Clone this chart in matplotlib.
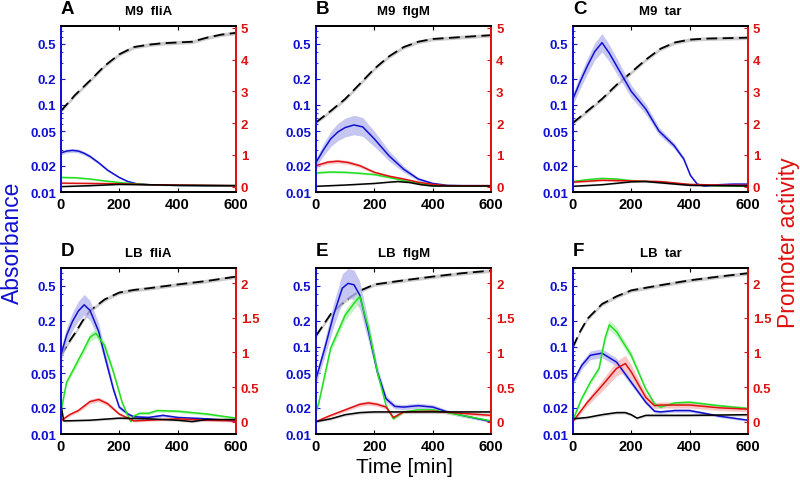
import numpy as np
import matplotlib
matplotlib.use("Agg")
import matplotlib.pyplot as plt
from matplotlib.ticker import FixedLocator, NullFormatter, LogLocator

plt.rcParams['font.family'] = ['Liberation Sans', 'DejaVu Sans']

# ---- data: (time [min], value) ----
# absorbance (left, log axis); promoter activity (right axis) for blue/green/red/black
A_od = [(0, 0.085), (50, 0.131), (100, 0.19), (150, 0.28), (200, 0.38), (250, 0.46), (300, 0.49),
        (350, 0.51), (400, 0.52), (450, 0.53), (500, 0.59), (550, 0.64), (600, 0.67)]
A_blue = [(0, 1.06), (20, 1.12), (40, 1.14), (60, 1.12), (80, 1.05), (100, 0.95), (130, 0.75), (160, 0.52),
          (200, 0.29), (230, 0.16), (260, 0.09), (300, 0.06), (400, 0.04), (500, 0.03), (600, 0.03)]
A_green = [(0, 0.29), (50, 0.28), (100, 0.24), (150, 0.18), (200, 0.13), (250, 0.09), (300, 0.06),
           (400, 0.04), (600, 0.03)]
A_red = [(0, 0.11), (100, 0.10), (200, 0.09), (300, 0.06), (400, 0.05), (600, 0.03)]
A_black = [(0, 0.0), (100, 0.03), (200, 0.07), (300, 0.06), (400, 0.04), (600, 0.03)]

B_od = [(0, 0.063), (50, 0.085), (100, 0.117), (150, 0.174), (200, 0.26), (250, 0.36), (300, 0.46),
        (350, 0.53), (400, 0.57), (500, 0.60), (600, 0.63)]
B_blue = [(0, 0.76), (25, 1.15), (50, 1.5), (75, 1.72), (100, 1.86), (130, 1.94), (160, 1.88), (200, 1.5),
          (250, 0.97), (300, 0.55), (350, 0.24), (400, 0.1), (450, 0.04), (500, 0.03), (600, 0.03)]
B_green = [(0, 0.43), (50, 0.46), (100, 0.45), (150, 0.42), (200, 0.38), (250, 0.29), (300, 0.19),
           (350, 0.1), (400, 0.03), (450, 0.03), (600, 0.02)]
B_red = [(0, 0.66), (40, 0.77), (75, 0.8), (110, 0.76), (150, 0.66), (200, 0.45), (250, 0.33), (300, 0.24),
         (350, 0.14), (400, 0.07), (450, 0.03), (600, 0.03)]
B_black = [(0, 0.01), (100, 0.05), (200, 0.1), (250, 0.14), (280, 0.16), (320, 0.13), (360, 0.06),
           (400, 0.02), (600, 0.02)]

C_od = [(0, 0.062), (50, 0.085), (100, 0.117), (150, 0.17), (200, 0.236), (250, 0.33), (300, 0.44),
        (350, 0.52), (400, 0.56), (450, 0.575), (500, 0.58), (600, 0.59)]
C_blue = [(0, 2.75), (25, 3.3), (50, 3.8), (75, 4.25), (100, 4.53), (125, 4.2), (150, 3.8), (200, 3.0),
          (250, 2.44), (295, 1.75), (347, 1.29), (380, 0.87), (403, 0.35), (426, 0.08), (450, 0.02),
          (500, 0.06), (550, 0.08), (600, 0.08)]
C_green = [(0, 0.16), (50, 0.22), (100, 0.26), (150, 0.24), (200, 0.19), (300, 0.14), (400, 0.06),
           (500, 0.03), (600, 0.02)]
C_red = [(0, 0.14), (100, 0.2), (200, 0.18), (300, 0.16), (400, 0.07), (500, 0.05), (600, 0.04)]
C_black = [(0, 0.01), (100, 0.06), (200, 0.15), (250, 0.16), (300, 0.12), (400, 0.04), (600, 0.02)]

D_od = [(0, 0.079), (25, 0.11), (50, 0.146), (75, 0.2), (100, 0.26), (150, 0.35), (200, 0.42),
        (250, 0.45), (300, 0.47), (400, 0.52), (500, 0.57), (600, 0.64)]
D_blue = [(0, 0.96), (20, 1.25), (40, 1.45), (60, 1.6), (80, 1.69), (100, 1.61), (130, 1.3), (150, 0.96),
          (180, 0.47), (200, 0.21), (230, 0.11), (250, 0.07), (300, 0.06), (350, 0.09), (400, 0.06),
          (500, 0.04), (600, 0.01)]
D_green = [(0, 0.14), (20, 0.57), (50, 0.81), (80, 1.05), (100, 1.22), (120, 1.28), (150, 1.1), (180, 0.72),
           (210, 0.28), (230, 0.08), (240, 0.0), (250, 0.08), (270, 0.12), (300, 0.12), (330, 0.16),
           (400, 0.15), (500, 0.11), (600, 0.05)]
D_red = [(0, 0.01), (30, 0.1), (60, 0.16), (100, 0.29), (130, 0.32), (160, 0.26), (200, 0.11), (250, 0.01),
         (300, 0.02), (400, 0.04), (500, 0.02), (600, 0.01)]
D_black = [(0, 0.26), (10, 0.01), (100, 0.02), (200, 0.05), (300, 0.04), (400, 0.02), (450, 0.0),
           (500, 0.03), (600, 0.03)]

E_od = [(0, 0.134), (50, 0.237), (100, 0.34), (150, 0.44), (200, 0.52), (300, 0.58), (400, 0.64),
        (500, 0.70), (600, 0.75)]
E_blue = [(0, 0.62), (30, 1.06), (60, 1.54), (90, 1.93), (110, 2.0), (130, 1.98), (150, 1.83), (180, 1.3),
          (210, 0.72), (240, 0.33), (270, 0.22), (300, 0.21), (350, 0.23), (400, 0.21), (450, 0.14),
          (500, 0.09), (600, 0.0)]
E_green = [(0, 0.14), (10, 0.28), (50, 1.06), (100, 1.54), (130, 1.71), (150, 1.81), (180, 1.35),
           (210, 0.72), (240, 0.23), (265, 0.04), (300, 0.14), (350, 0.17), (400, 0.17), (500, 0.09),
           (600, 0.01)]
E_red = [(0, 0.0), (50, 0.09), (100, 0.17), (150, 0.25), (180, 0.27), (210, 0.25), (240, 0.21), (265, 0.06),
         (300, 0.14), (400, 0.15), (500, 0.12), (600, 0.09)]
E_black = [(0, 0.0), (50, 0.04), (100, 0.1), (150, 0.13), (200, 0.14), (300, 0.14), (600, 0.14)]

F_od = [(0, 0.099), (25, 0.15), (50, 0.21), (100, 0.31), (150, 0.38), (200, 0.445), (300, 0.51),
        (400, 0.58), (500, 0.64), (600, 0.70)]
F_blue = [(0, 0.57), (30, 0.81), (60, 0.96), (100, 0.99), (150, 0.86), (200, 0.57), (250, 0.28), (280, 0.15),
          (300, 0.14), (350, 0.16), (400, 0.16), (450, 0.12), (500, 0.08), (600, 0.02)]
F_green = [(0, 0.02), (30, 0.33), (60, 0.57), (90, 0.77), (110, 1.2), (125, 1.4), (150, 1.3), (200, 0.96),
           (250, 0.47), (280, 0.26), (300, 0.21), (350, 0.27), (400, 0.28), (500, 0.23), (600, 0.19)]
F_red = [(0, 0.0), (50, 0.28), (100, 0.52), (150, 0.77), (180, 0.84), (200, 0.72), (250, 0.35), (280, 0.23),
         (300, 0.24), (400, 0.24), (500, 0.2), (600, 0.18)]
F_black = [(0, 0.04), (50, 0.06), (100, 0.1), (150, 0.13), (180, 0.13), (200, 0.1), (220, 0.05), (250, 0.09),
           (300, 0.09), (400, 0.09), (600, 0.1)]

letters = ['A', 'B', 'C', 'D', 'E', 'F']
titles = ['M9  fliA', 'M9  flgM', 'M9  tar', 'LB  fliA', 'LB  flgM', 'LB  tar']
panels = [
    (A_od, A_blue, A_green, A_red, A_black),
    (B_od, B_blue, B_green, B_red, B_black),
    (C_od, C_blue, C_green, C_red, C_black),
    (D_od, D_blue, D_green, D_red, D_black),
    (E_od, E_blue, E_green, E_red, E_black),
    (F_od, F_blue, F_green, F_red, F_black),
]
# relative band widths for the blue curve per panel
blue_band = [0.04, 0.15, 0.06, 0.08, 0.10, 0.05]

BLUE = '#1010d0'
RED = '#e01010'
GREEN = '#20e020'

fig = plt.figure(figsize=(8, 4.85), dpi=100)
lefts = [0.076, 0.395, 0.716]
bottoms = [0.602, 0.103]
W, H = 0.219, 0.342

for i, (od, blue, green, red, black) in enumerate(panels):
    row, col = divmod(i, 3)
    ax = fig.add_axes([lefts[col], bottoms[row], W, H])
    ax2 = ax.twinx()

    # absorbance, log axis
    t, y = map(np.array, zip(*od))
    ax.fill_between(t, y / 1.05, y * 1.05, color='#cccccc', lw=0, zorder=1)
    ax.plot(t, y, color='black', lw=1.3, dashes=(6, 3), zorder=2)
    ax.set_yscale('log')
    ax.set_ylim(0.01, 0.8)
    ax.set_xlim(0, 600)

    # promoter activity, right axis
    bands = [(blue, BLUE, '#b8b8f0', blue_band[i]), (green, GREEN, '#b8f0b8', 0.04),
             (red, RED, '#f5b8b8', 0.06 if i != 5 else 0.12), (black, 'black', '#c8c8c8', 0.05)]
    for series, c, fc, frac in bands:
        t, y = map(np.array, zip(*series))
        hw = frac * np.abs(y) + 0.015
        ax2.fill_between(t, y - hw, y + hw, color=fc, lw=0, alpha=0.8)
    for series, c, fc, frac in bands:
        t, y = map(np.array, zip(*series))
        ax2.plot(t, y, color=c, lw=1.1)

    if row == 0:
        ax2.set_ylim(-0.17, 5.05)
        ax2.set_yticks([0, 1, 2, 3, 4, 5])
    else:
        ax2.set_ylim(-0.18, 2.22)
        ax2.set_yticks([0, 0.5, 1, 1.5, 2])
        ax2.set_yticklabels(['0', '0.5', '1', '1.5', '2'])

    ax.yaxis.set_major_locator(FixedLocator([0.01, 0.02, 0.05, 0.1, 0.2, 0.5]))
    ax.set_yticklabels(['0.01', '0.02', '0.05', '0.1', '0.2', '0.5'])
    ax.yaxis.set_minor_locator(LogLocator(base=10, subs=np.arange(2, 10)))
    ax.yaxis.set_minor_formatter(NullFormatter())
    ax.set_xticks([0, 200, 400, 600])

    ax.tick_params(axis='y', which='both', direction='in', colors=BLUE, labelsize=9.5, length=3)
    ax.tick_params(axis='y', which='minor', length=1.5)
    ax.tick_params(axis='x', direction='in', top=True, labelsize=10.5, length=3)
    ax2.tick_params(axis='y', direction='in', colors=RED, labelsize=9.5, length=3)
    for lab in ax.get_yticklabels() + ax.get_xticklabels():
        lab.set_fontweight('bold')
    for lab in ax2.get_yticklabels():
        lab.set_fontweight('bold')

    for a in (ax, ax2):
        a.spines['left'].set_color(BLUE)
        a.spines['right'].set_color(RED)
        a.spines['top'].set_color('black')
        a.spines['bottom'].set_color('black')
        for s in a.spines.values():
            s.set_linewidth(1.3)

    ax.text(0.0, 1.055, letters[i], transform=ax.transAxes, fontsize=13.5, fontweight='bold',
            ha='left', va='bottom')
    ax.text(0.5, 1.055, titles[i], transform=ax.transAxes, fontsize=9.5, fontweight='bold',
            ha='center', va='bottom')

fig.text(0.016, 0.5, 'Absorbance', color=BLUE, fontsize=16.5, rotation=90, ha='center', va='center')
fig.text(0.986, 0.5, 'Promoter activity', color=RED, fontsize=16.5, rotation=90, ha='center', va='center')
fig.text(0.505, 0.037, 'Time [min]', color='black', fontsize=15, ha='center', va='center')

fig.savefig('out.png', dpi=100)
